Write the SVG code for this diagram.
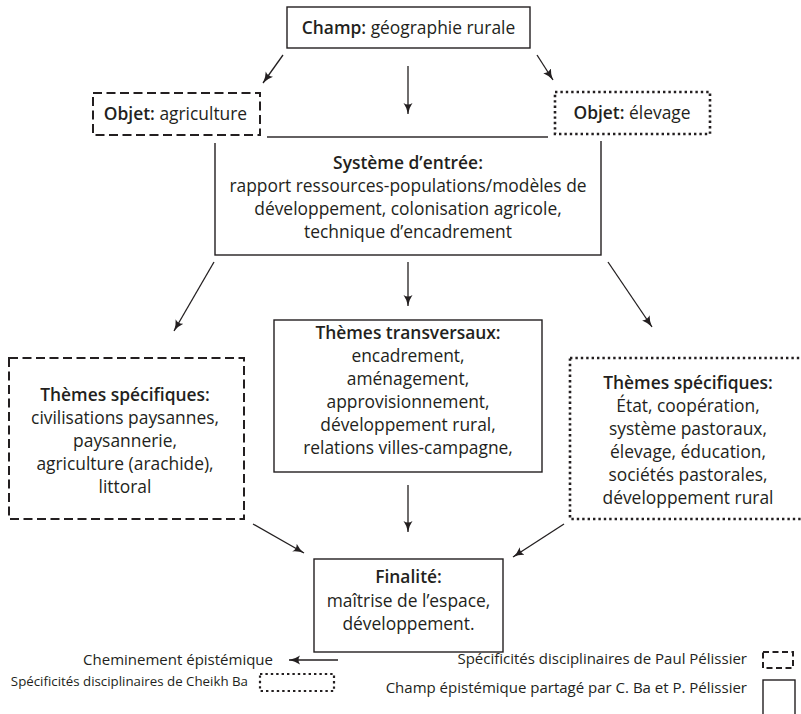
<svg xmlns="http://www.w3.org/2000/svg" width="801" height="714" viewBox="0 0 801 714">
<defs>
<marker id="ah" markerWidth="12" markerHeight="10" refX="11" refY="5" orient="auto" markerUnits="userSpaceOnUse">
<path d="M0,0.5 Q5,4 11,5 Q5,6 0,9.5 Q3,5 0,0.5 z" fill="#231f20"/>
</marker>
<style>
text{font-family:"Open Sans","Noto Sans","Liberation Sans",sans-serif;fill:#231f20;text-anchor:middle}
.t{font-size:17.4px}
.b{font-weight:600}
.lg{font-size:15px}
.sm{font-size:13.3px}
.r{text-anchor:end}
.box{fill:#fff;stroke:#231f20;stroke-width:1.4}
.dash{fill:#fff;stroke:#231f20;stroke-width:2;stroke-dasharray:9 4.5}
.dot{fill:#fff;stroke:#231f20;stroke-width:2.6;stroke-dasharray:2.4 3}
.pad{fill:#fff;stroke:none}
.arr{stroke:#231f20;stroke-width:1.3;fill:none;marker-end:url(#ah)}
</style>
</defs>
<rect width="801" height="714" fill="#fff"/>

<g id="connectors">
<line class="arr" x1="283" y1="55" x2="263" y2="83"/>
<line class="arr" x1="408" y1="66" x2="408" y2="114"/>
<line class="arr" x1="537" y1="55" x2="553" y2="80"/>
<line class="arr" x1="214" y1="262" x2="174" y2="331"/>
<line class="arr" x1="408" y1="262" x2="408" y2="306"/>
<line class="arr" x1="608" y1="262" x2="652" y2="327"/>
<line class="arr" x1="253" y1="524" x2="304" y2="553"/>
<line class="arr" x1="408" y1="485" x2="408" y2="532"/>
<line class="arr" x1="564" y1="524" x2="513" y2="557"/>
</g>

<g id="champ">
<rect class="box" x="287" y="7" width="243" height="41"/>
<text class="t" x="408.5" y="34"><tspan class="b">Champ:</tspan> géographie rurale</text>
</g>

<g id="systeme">
<rect class="box" x="215" y="137" width="386" height="118"/>
<text class="t b" x="408" y="169">Système d’entrée:</text>
<text class="t" x="408" y="192">rapport ressources-populations/modèles de</text>
<text class="t" x="408" y="215">développement, colonisation agricole,</text>
<text class="t" x="408" y="238">technique d’encadrement</text>
</g>

<g id="objet-agriculture">
<rect class="pad" x="86" y="86" width="181" height="57"/>
<rect class="dash" x="93" y="93" width="167" height="42"/>
<text class="t" x="175.5" y="120"><tspan class="b">Objet:</tspan> agriculture</text>
</g>

<g id="objet-elevage">
<rect class="pad" x="548" y="85" width="169" height="56"/>
<rect class="dot" x="555" y="92" width="155" height="42"/>
<text class="t" x="632" y="119"><tspan class="b">Objet:</tspan> élevage</text>
</g>

<g id="themes-specifiques-pp">
<rect class="dash" x="9" y="358" width="235" height="161"/>
<text class="t b" x="125" y="401">Thèmes spécifiques:</text>
<text class="t" x="125" y="424">civilisations paysannes,</text>
<text class="t" x="125" y="447">paysannerie,</text>
<text class="t" x="125" y="470">agriculture (arachide),</text>
<text class="t" x="125" y="493">littoral</text>
</g>

<g id="themes-transversaux">
<rect class="box" x="274" y="320" width="268" height="152"/>
<text class="t b" x="408" y="339">Thèmes transversaux:</text>
<text class="t" x="408" y="362">encadrement,</text>
<text class="t" x="408" y="385">aménagement,</text>
<text class="t" x="408" y="408">approvisionnement,</text>
<text class="t" x="408" y="431">développement rural,</text>
<text class="t" x="408" y="454">relations villes-campagne,</text>
</g>

<g id="themes-specifiques-cb">
<rect class="dot" x="570" y="358" width="240" height="161"/>
<text class="t b" x="688" y="389">Thèmes spécifiques:</text>
<text class="t" x="688" y="412">État, coopération,</text>
<text class="t" x="688" y="435">système pastoraux,</text>
<text class="t" x="688" y="458">élevage, éducation,</text>
<text class="t" x="688" y="481">sociétés pastorales,</text>
<text class="t" x="688" y="504">développement rural</text>
</g>

<g id="finalite">
<rect class="box" x="314" y="559" width="189" height="93"/>
<text class="t b" x="408.5" y="583">Finalité:</text>
<text class="t" x="408.5" y="607">maîtrise de l’espace,</text>
<text class="t" x="408.5" y="630">développement.</text>
</g>

<g id="legend">
<text class="lg r" x="273" y="665">Cheminement épistémique</text>
<line class="arr" x1="338" y1="660" x2="289" y2="660"/>
<text class="sm r" x="248" y="686">Spécificités disciplinaires de Cheikh Ba</text>
<rect class="dot" x="260" y="674" width="74" height="17" style="stroke-width:2.2"/>
<text class="lg r" x="747" y="664">Spécificités disciplinaires de Paul Pélissier</text>
<rect class="dash" x="763" y="652" width="30" height="16" style="stroke-dasharray:6 3.5"/>
<text class="lg r" x="747" y="693">Champ épistémique partagé par C. Ba et P. Pélissier</text>
<rect class="box" x="763" y="680" width="32" height="40"/>
</g>
</svg>
